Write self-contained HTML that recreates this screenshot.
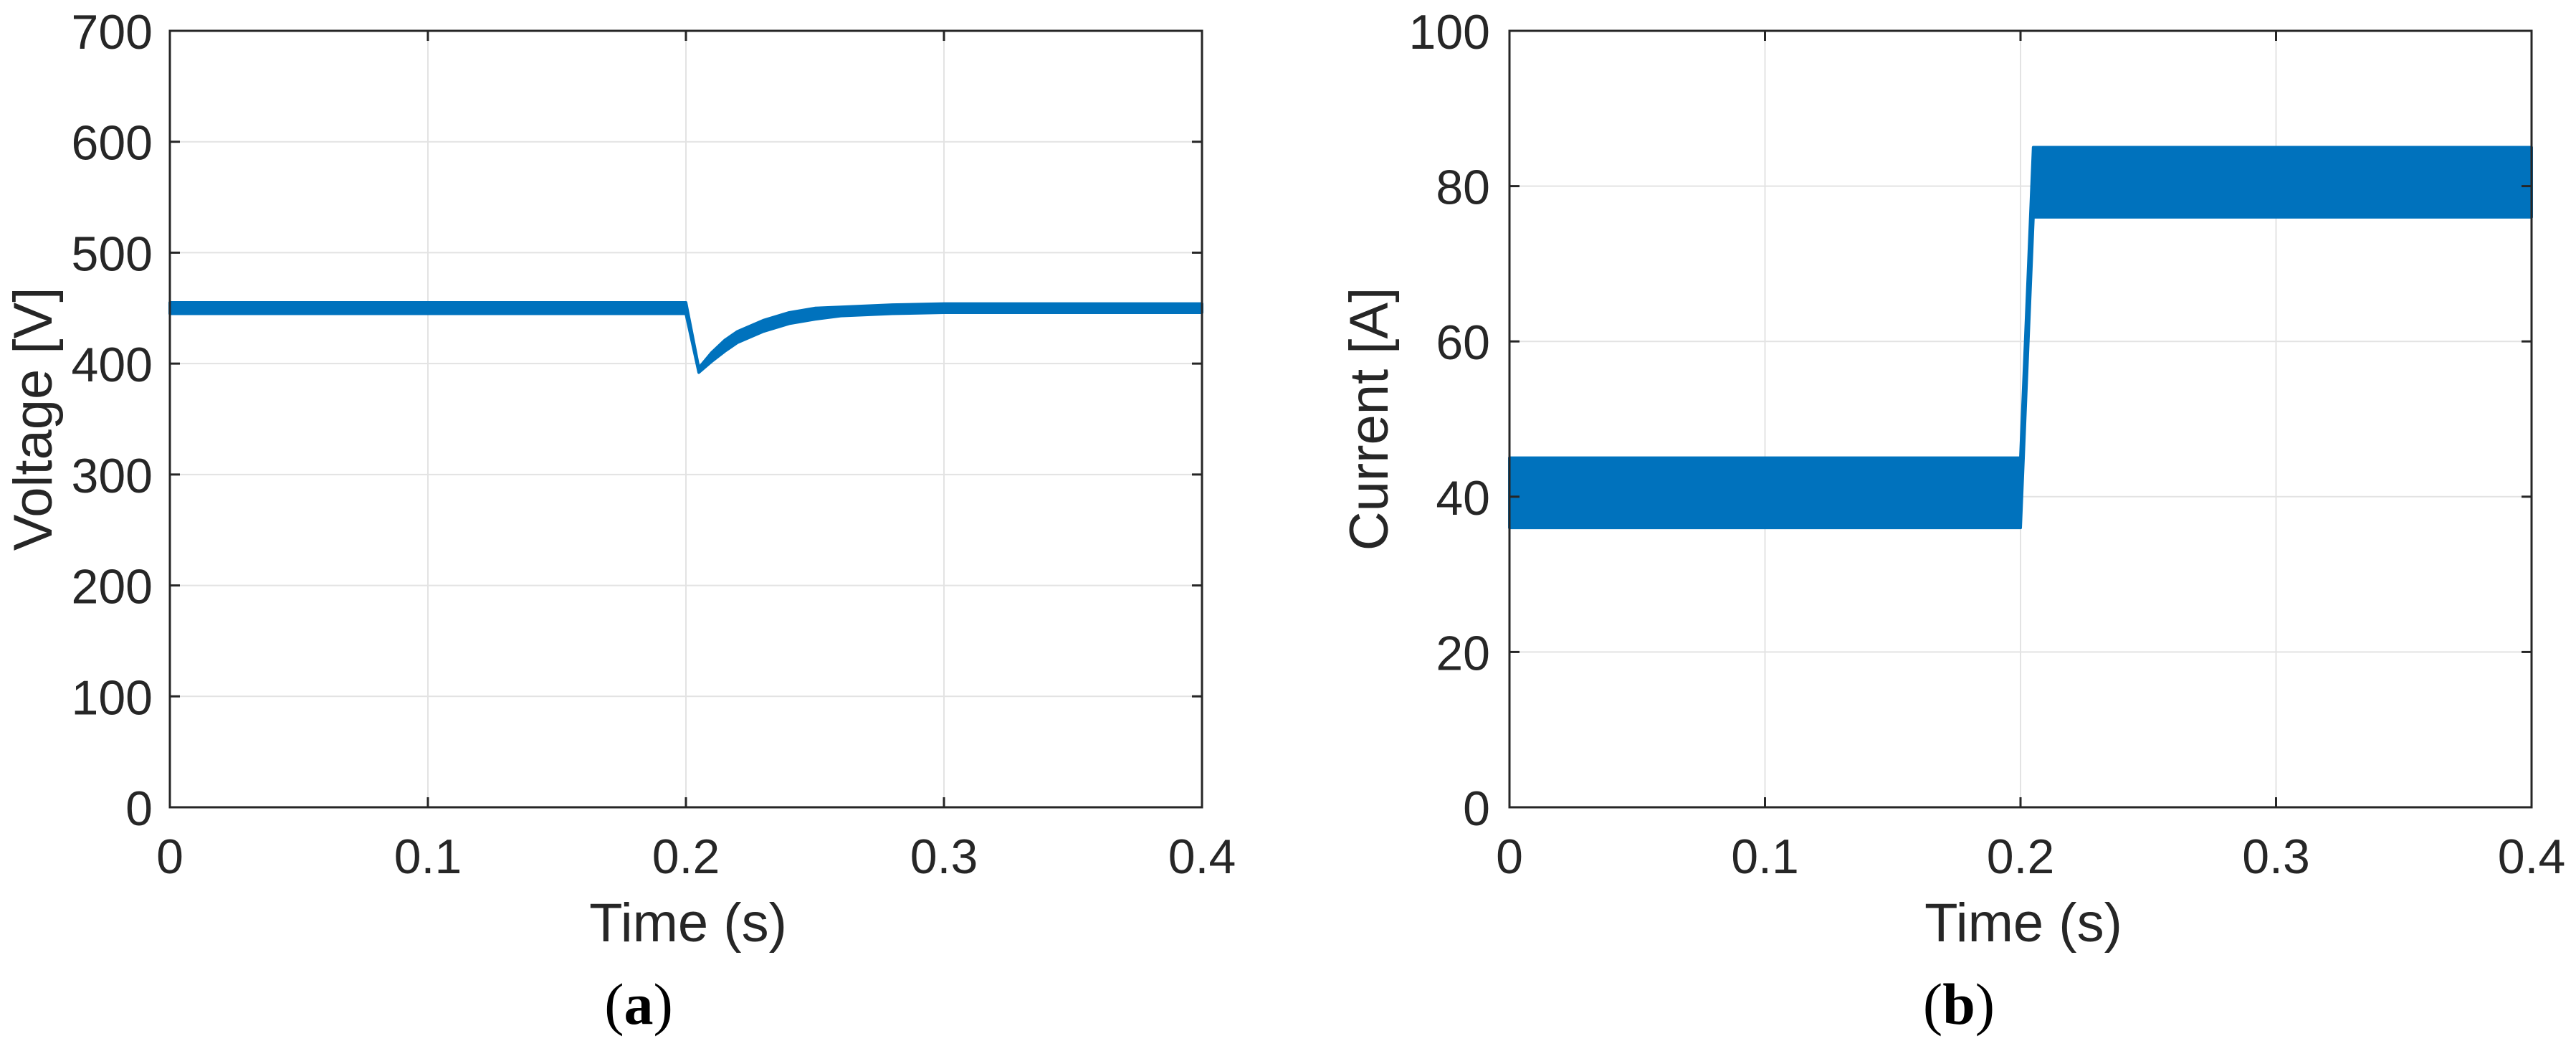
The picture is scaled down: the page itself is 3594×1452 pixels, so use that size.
<!DOCTYPE html>
<html><head><meta charset="utf-8">
<style>
html,body{margin:0;padding:0;background:#fff;}
svg{display:block;}
text{font-family:"Liberation Sans",Arial,sans-serif;fill:#262626;}
</style></head>
<body>
<svg id="fig" width="3594" height="1452" viewBox="0 0 3594 1452" xmlns="http://www.w3.org/2000/svg">
<rect width="3594" height="1452" fill="#fff"/>
<g id="pa"></g>
<g id="pb"></g>
<text x="891" y="1428" text-anchor="middle" font-size="82" style="font-family:'Liberation Serif',serif;fill:#000">(<tspan font-weight="bold">a</tspan>)</text>
<text x="2733" y="1428" text-anchor="middle" font-size="82" style="font-family:'Liberation Serif',serif;fill:#000">(<tspan font-weight="bold">b</tspan>)</text>
</svg>
<script>
// Panel (a) data
const xTicks = [0, 0.1, 0.2, 0.3, 0.4];
const xTickLabels = ["0", "0.1", "0.2", "0.3", "0.4"];
const vTicks = [0, 100, 200, 300, 400, 500, 600, 700];
const vTickLabels = ["0", "100", "200", "300", "400", "500", "600", "700"];
const vTime = [0, 0.2, 0.205, 0.21, 0.215, 0.22, 0.23, 0.24, 0.25, 0.26, 0.28, 0.3, 0.4];
const vMean = [450, 450, 394, 406, 416, 424, 434, 441, 445, 447, 449, 450, 450];
const vRipple = [5, 5, 2, 4, 5, 5, 5, 5, 5, 4, 4, 4, 4];
// Panel (b) data
const iTicks = [0, 20, 40, 60, 80, 100];
const iTickLabels = ["0", "20", "40", "60", "80", "100"];
const iTime = [0, 0.2, 0.205, 0.4];
const iMin = [36, 36, 76, 76];
const iMax = [45, 45, 85, 85];

const NS = "http://www.w3.org/2000/svg";
function mk(parent, tag, attrs) {
  const e = document.createElementNS(NS, tag);
  for (const k in attrs) e.setAttribute(k, attrs[k]);
  parent.appendChild(e);
  return e;
}

function panel(gid, L, R, T, B, yMax, yTicks, yLabels, yTitle, yTitleX, yLabelRight, xTitleX) {
  const g = document.getElementById(gid);
  const sx = v => L + (v - 0) / 0.4 * (R - L);
  const sy = v => B - v / yMax * (B - T);
  // grid
  xTicks.forEach(t => {
    const l = mk(g, "line", {x1: sx(t), x2: sx(t), y1: T, y2: B, stroke: "#e3e3e3", "stroke-width": 2});
    
    
  });
  yTicks.forEach(t => {
    const l = mk(g, "line", {x1: L, x2: R, y1: sy(t), y2: sy(t), stroke: "#e3e3e3", "stroke-width": 2});
    
    
  });
  return {g, sx, sy};
}

function frame(p, L, R, T, B, yTicks, yLabels, yTitle, yTitleX, yLabelRight, xTitleX) {
  const g = p.g, sx = p.sx, sy = p.sy;
  xTicks.forEach((t, i) => {
    const a = mk(g, "line", {x1: sx(t), x2: sx(t), y1: B, y2: B - 14, stroke: "#262626", "stroke-width": 3});
    
    
    const b = mk(g, "line", {x1: sx(t), x2: sx(t), y1: T, y2: T + 14, stroke: "#262626", "stroke-width": 3});
    
    
    const tx = mk(g, "text", {x: sx(t), y: 1218, "text-anchor": "middle", "font-size": 68});
    tx.textContent = xTickLabels[i];
    
    
  });
  yTicks.forEach((t, i) => {
    const a = mk(g, "line", {x1: L, x2: L + 14, y1: sy(t), y2: sy(t), stroke: "#262626", "stroke-width": 3});
    
    
    const b = mk(g, "line", {x1: R, x2: R - 14, y1: sy(t), y2: sy(t), stroke: "#262626", "stroke-width": 3});
    
    
    const tx = mk(g, "text", {x: yLabelRight, y: sy(t) + 25, "text-anchor": "end", "font-size": 68});
    tx.textContent = yLabels[i];
    
    
  });
  const box = mk(g, "rect", {x: L, y: T, width: R - L, height: B - T, fill: "none", stroke: "#262626", "stroke-width": 3});
  
  
  const yt = mk(g, "text", {x: 0, y: 0, "text-anchor": "middle", "font-size": 76, transform: "translate(" + yTitleX + "," + ((T + B) / 2) + ") rotate(-90)"});
  yt.textContent = yTitle;
  
  
  const xt = mk(g, "text", {x: xTitleX, y: 1313, "text-anchor": "middle", "font-size": 76});
  xt.textContent = "Time (s)";
  
  
}

function band(p, times, lo, hi, name) {
  let d = "";
  times.forEach((t, i) => { d += (i ? "L" : "M") + p.sx(t) + "," + p.sy(hi[i]); });
  for (let i = times.length - 1; i >= 0; i--) d += "L" + p.sx(times[i]) + "," + p.sy(lo[i]);
  d += "Z";
  const path = mk(p.g, "path", {d: d, fill: "#0072BD", stroke: "#0072BD", "stroke-width": 4, "stroke-linejoin": "round"});
  
  
}

// Panel a
const LA = 237, RA = 1677, TA = 43, BA = 1126;
const pa = panel("pa", LA, RA, TA, BA, 700, vTicks);
band(pa, vTime, vMean.map((m, i) => m - vRipple[i]), vMean.map((m, i) => m + vRipple[i]), "voltage-series");
frame(pa, LA, RA, TA, BA, vTicks, vTickLabels, "Voltage [V]", 72, 213, 960);

// Panel b
const LB = 2106, RB = 3532, TB = 43, BB = 1126;
const pb = panel("pb", LB, RB, TB, BB, 100, iTicks);
band(pb, iTime, iMin, iMax, "current-series");
frame(pb, LB, RB, TB, BB, iTicks, iTickLabels, "Current [A]", 1936, 2079, 2823);
</script>
</body></html>
